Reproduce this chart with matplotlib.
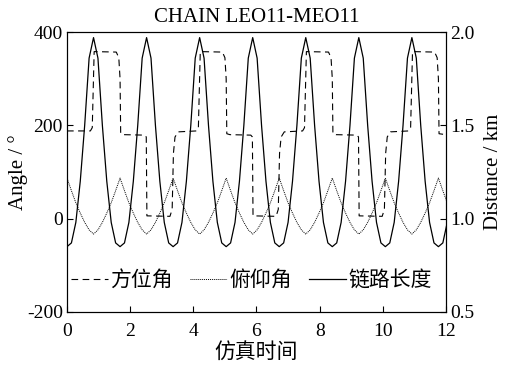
import numpy as np
import matplotlib
matplotlib.use("Agg")
import matplotlib.pyplot as plt

plt.rcParams['font.family'] = ['Liberation Serif', 'Noto Sans CJK SC']
plt.rcParams['axes.unicode_minus'] = False

# ====================== data ======================
title = "CHAIN LEO11-MEO11"
x_label = "仿真时间"
y_left_label = "Angle / °"
y_right_label = "Distance / km"
legend_names = ["方位角", "俯仰角", "链路长度"]

# esantionare comuna pentru elevatie si distanta (pas 0.14)
t = np.round(np.arange(0, 12.05, 0.14), 2)

# distanta (km)
distance = [
    0.85, 0.87, 0.98, 1.20, 1.50, 1.86, 1.97, 1.86, 1.50, 1.20, 0.98, 0.87,
    0.85, 0.87, 0.98, 1.20, 1.50, 1.86, 1.97, 1.86, 1.50, 1.20, 0.98, 0.87,
    0.85, 0.87, 0.98, 1.20, 1.50, 1.86, 1.97, 1.86, 1.50, 1.20, 0.98, 0.87,
    0.85, 0.87, 0.98, 1.20, 1.50, 1.86, 1.97, 1.86, 1.50, 1.20, 0.98, 0.87,
    0.85, 0.87, 0.98, 1.20, 1.50, 1.86, 1.97, 1.86, 1.50, 1.20, 0.98, 0.87,
    0.85, 0.87, 0.98, 1.20, 1.50, 1.86, 1.97, 1.86, 1.50, 1.20, 0.98, 0.87,
    0.85, 0.87, 0.98, 1.20, 1.50, 1.86, 1.97, 1.86, 1.50, 1.20, 0.98, 0.87,
    0.85, 0.87, 0.98,
]

# unghi de elevatie (grade)
elevation = [
    87, 60, 34, 12, -8, -24, -33, -24, -8, 12, 34, 60,
    87, 60, 34, 12, -8, -24, -33, -24, -8, 12, 34, 60,
    87, 60, 34, 12, -8, -24, -33, -24, -8, 12, 34, 60,
    87, 60, 34, 12, -8, -24, -33, -24, -8, 12, 34, 60,
    87, 60, 34, 12, -8, -24, -33, -24, -8, 12, 34, 60,
    87, 60, 34, 12, -8, -24, -33, -24, -8, 12, 34, 60,
    87, 60, 34, 12, -8, -24, -33, -24, -8, 12, 34, 60,
    87, 60, 34,
]

# azimut (grade) - curba in trepte
az_t = [0.00, 0.74, 0.80, 0.86, 1.56, 1.64, 1.68, 1.70, 1.80, 2.46, 2.51, 2.53,
        3.26, 3.33, 3.37, 3.42, 3.52,
        4.10, 4.16, 4.22, 4.92, 5.00, 5.04, 5.06, 5.16, 5.82, 5.87, 5.89,
        6.62, 6.69, 6.73, 6.78, 6.88,
        7.46, 7.52, 7.58, 8.28, 8.36, 8.40, 8.42, 8.52, 9.18, 9.23, 9.25,
        9.98, 10.05, 10.09, 10.14, 10.24,
        10.82, 10.88, 10.94, 11.64, 11.72, 11.76, 11.78, 12.00]
azimuth = [188, 188, 195, 358, 357, 345, 300, 182, 180, 179, 175, 6,
           5, 20, 140, 175, 186,
           188, 195, 358, 357, 345, 300, 182, 180, 179, 175, 6,
           5, 20, 140, 175, 186,
           188, 195, 358, 357, 345, 300, 182, 180, 179, 175, 6,
           5, 20, 140, 175, 186,
           188, 195, 358, 357, 345, 300, 182, 180]

# ====================== desenare ======================
fig = plt.figure(figsize=(5.06, 3.70), dpi=100)
ax = fig.add_axes([0.1324, 0.1568, 0.749, 0.7567])
ax2 = ax.twinx()

l1, = ax.plot(az_t, azimuth, color='black', lw=0.8, linestyle=(0, (6, 4)))
l2, = ax.plot(t, elevation, color='black', lw=0.7, linestyle=(0, (1, 1)))
l3, = ax2.plot(t, distance, color='black', lw=0.9)

ax.set_xlim(0, 12)
ax.set_ylim(-200, 400)
ax2.set_ylim(0.5, 2.0)
ax.set_xticks(range(0, 13, 2))
ax.set_yticks([-200, 0, 200, 400])
ax2.set_yticks([0.5, 1.0, 1.5, 2.0])
ax2.set_yticklabels(["0.5", "1.0", "1.5", "2.0"])

ax.tick_params(direction='in', length=4, labelsize=14, pad=3, top=False)
ax.tick_params(axis='x', pad=8)
ax2.tick_params(direction='in', length=4, labelsize=14, pad=3)

ax.set_title(title, fontsize=15, pad=7)
ax.set_xlabel(x_label, fontsize=15, labelpad=3)
ax.set_ylabel(y_left_label, fontsize=15, labelpad=-1)
ax2.set_ylabel(y_right_label, fontsize=15, labelpad=7)

ax.legend([l1, l2, l3], legend_names, loc='center', bbox_to_anchor=(0.486, 0.11),
          ncol=3, frameon=False, fontsize=15, handlelength=1.8, handletextpad=0.1,
          columnspacing=0.8, borderpad=0.2)

plt.savefig('out.png', dpi=100)
